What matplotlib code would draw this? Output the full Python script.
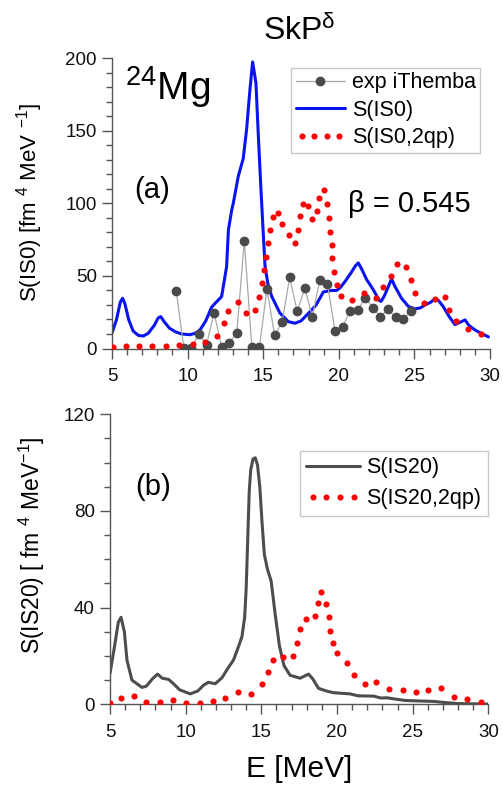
import matplotlib
matplotlib.use('Agg')
import matplotlib.pyplot as plt
from matplotlib.ticker import MultipleLocator
from matplotlib.legend_handler import HandlerLine2D

plt.rcParams['font.family'] = ['Liberation Sans', 'DejaVu Sans']
plt.rcParams['mathtext.fontset'] = 'custom'
plt.rcParams['mathtext.rm'] = 'Liberation Sans'
plt.rcParams['mathtext.it'] = 'Liberation Sans:italic'
plt.rcParams['mathtext.default'] = 'regular'
plt.rcParams['lines.solid_joinstyle'] = 'round'
plt.rcParams['lines.solid_capstyle'] = 'round'

# ---- panel (a): IS0 strength ----
# experiment iThemba
exp_E = [9.25, 9.75, 10.25, 10.75, 11.25, 11.75, 12.25, 12.75, 13.25, 13.75,
         14.25, 14.75, 15.25, 15.75, 16.25, 16.75, 17.25, 17.75, 18.25, 18.75,
         19.25, 19.75, 20.25, 20.75, 21.25, 21.75, 22.25, 22.75, 23.25, 23.75,
         24.25, 24.75]
exp_S = [39.5, 0.5, 0.5, 10, 2.4, 24.7, 1.3, 4, 10.5, 74,
         1, 1, 41, 9.3, 18, 49, 25.5, 41.5, 22, 47.5,
         44.5, 12, 15, 26, 26.5, 35, 28, 22, 27, 21.5,
         20, 25.5]

# S(IS0)
is0_E = [5.0, 5.3, 5.55, 5.7, 5.85, 6.1, 6.4, 6.75, 7.07, 7.4, 7.8, 8.05, 8.22,
         8.45, 8.8, 9.2, 9.6, 10.16, 10.5, 10.82, 11.2, 11.59, 11.9, 12.25,
         12.58, 12.7, 12.92, 13.02, 13.35, 13.68, 13.9, 14.12, 14.3, 14.52,
         14.67, 14.83, 15.0, 15.12, 15.3, 15.56, 16.1, 16.66, 17.1, 17.5, 18.1,
         18.5, 18.98, 19.5, 19.86, 20.1, 20.4, 20.8, 21.1, 21.29, 21.5, 21.84,
         22.0, 22.28, 22.68, 22.8, 23.0, 23.25, 23.49, 23.7, 24.15, 24.6, 25.04,
         25.4, 25.7, 26.1, 26.36, 26.6, 26.9, 27.3, 27.68, 28.0, 28.35, 28.6,
         29.0, 29.5, 29.9]
is0_S = [10.7, 20, 32, 34.6, 31, 20, 12, 9, 8.6, 10.5, 16, 21, 22,
         18.5, 14, 11.5, 10, 9.5, 10.5, 12.8, 19, 28.5, 32, 35.8,
         56.5, 81.8, 95.6, 100, 118.6, 131, 150.8, 178, 197.5, 183,
         148.5, 114, 80, 57, 45, 36, 24.5, 18.5, 17.4, 19, 25.4,
         30, 39, 40, 40, 42, 46, 52, 57, 59, 55, 47.5,
         45, 40.5, 33, 32.5, 36, 42, 48, 43, 34.6, 29, 27.3,
         28, 30, 32, 34.5, 33, 29, 22, 16.5, 18, 19.7, 16,
         12.8, 10, 8]

# S(IS0,2qp)
qp0_E = [5.04, 5.9, 6.79, 7.67, 8.57, 9.45, 10.34, 11.15, 11.92, 12.41,
         12.69, 13.31, 13.84, 14.46, 14.74, 14.9, 15.05, 15.19, 15.34, 15.45,
         15.63, 15.96, 16.22, 16.73, 17.1, 17.32, 17.45, 17.61, 17.98, 18.21,
         18.58, 18.71, 19.04, 19.22, 19.33, 19.42, 19.53, 19.57, 19.68, 19.86,
         20.15, 20.85, 21.67, 22.46, 22.9, 23.43, 23.83, 24.42, 24.75, 25.04,
         25.63, 26.36, 27.02, 27.31, 27.75, 28.57, 29.4]
qp0_S = [1.0, 1.6, 1.7, 1.7, 2.0, 2.4, 2.9, 4.3, 8.9, 17.5,
         26, 31.8, 24.3, 26.6, 35.8, 45, 54.2, 62.9, 73, 81.6,
         90.5, 93.3, 85.7, 78.3, 72.6, 81.8, 91, 99.7, 97.9, 89.4,
         94.7, 103.7, 108.9, 99.7, 89.9, 80.6, 71.4, 62.2, 53, 43.8,
         36.2, 33.5, 38, 34.6, 42.7, 50, 58.3, 56, 47.3, 38.5,
         31.6, 34.2, 35.3, 26.6, 19, 13.2, 9.8]

# ---- panel (b): IS20 strength ----
is20_E = [5.0, 5.3, 5.55, 5.73, 5.95, 6.12, 6.45, 7.11, 7.4, 7.8, 8.14, 8.45,
          8.87, 9.2, 9.6, 10.3, 10.8, 11.2, 11.51, 11.95, 12.4, 12.8, 13.16,
          13.5, 13.72, 13.9, 14.0, 14.1, 14.2, 14.3, 14.45, 14.6, 14.75, 14.9,
          15.05, 15.2, 15.4, 15.65, 15.9, 16.2, 16.5, 16.9, 17.57, 18.12, 18.4,
          18.78, 19.3, 19.77, 20.87, 21.4, 22.41, 22.9, 23.3, 23.8, 24.5, 25.28,
          26.4, 27.0, 28.0, 29.0, 30.0]
is20_S = [12.8, 24, 34, 36, 30, 18.3, 10, 7, 7.5, 10.5, 12.5, 10.8,
          10.3, 8.5, 6, 4.3, 5.5, 8, 9.1, 8.5, 11, 15, 18.3,
          24, 28, 36, 48, 68, 88, 97, 101.5, 102, 99, 90,
          75, 62, 56, 51, 38, 24, 16, 12, 10.8, 12.5, 10.5,
          6.6, 5.5, 4.8, 4.3, 3.5, 3.4, 2.6, 2.7, 2.2, 1.6, 1.4,
          1.2, 0.8, 0.3, 0.2, 0.1]

qp20_E = [5.02, 5.73, 6.56, 7.4, 8.28, 9.16, 10.04, 10.92, 11.8, 12.62,
          13.49, 14.33, 15.04, 15.41, 15.74, 16.43, 17.09, 17.35, 17.57, 17.97,
          18.56, 18.74, 18.96, 19.29, 19.44, 19.55, 19.73, 20.03, 20.69, 21.14,
          21.87, 22.59, 23.47, 24.35, 25.23, 26.04, 26.86, 27.74, 28.62, 29.5]
qp20_S = [0.7, 2.5, 3.4, 0.8, 0.8, 1.7, 0.7, 0.7, 1.4, 2.7,
          5.2, 4.1, 8.3, 13.5, 18.3, 19.4, 20.1, 25.5, 31, 35.2,
          36.5, 41.8, 46.3, 41.5, 36, 30.5, 25.2, 21.3, 17.2, 12.1,
          8.3, 9.1, 6.3, 5.9, 5.0, 5.9, 6.6, 3.1, 2.1, 1.1]

W, H = 503, 789
fig = plt.figure(figsize=(W / 100, H / 100), dpi=100)
ax1 = fig.add_axes([112 / W, 1 - 348.5 / H, 378 / W, 290.2 / H])
ax2 = fig.add_axes([110 / W, 1 - 704.3 / H, 378.3 / W, 290 / H])

spine_c = '#555555'
for ax in (ax1, ax2):
    for s in ('top', 'right'):
        ax.spines[s].set_visible(False)
    for s in ('left', 'bottom'):
        ax.spines[s].set_color(spine_c)
        ax.spines[s].set_linewidth(1.0)
    ax.tick_params(which='both', direction='out', color=spine_c, width=1.0,
                   labelsize=13.5, labelcolor='#111111')
    ax.tick_params(which='major', length=7, pad=4)
    ax.tick_params(which='minor', length=4)
    ax.tick_params(axis='x', which='major', pad=7)
    ax.set_xlim(5, 30)
    ax.xaxis.set_major_locator(MultipleLocator(5))
    ax.xaxis.set_minor_locator(MultipleLocator(1))

# panel (a)
ax1.set_ylim(0, 200)
ax1.yaxis.set_major_locator(MultipleLocator(50))
ax1.yaxis.set_minor_locator(MultipleLocator(10))
l_exp, = ax1.plot(exp_E, exp_S, color='#a8a8a8', lw=0.9, marker='o', ms=6,
                  mfc='#4a4a4a', mec='#4a4a4a', label='exp iThemba', zorder=3)
l_is0, = ax1.plot(is0_E, is0_S, color='#0a14f0', lw=2.2, label='S(IS0)', zorder=2)
l_qp0, = ax1.plot(qp0_E, qp0_S, ls='none', marker='o', ms=4.4, color='#ff0000',
                  mec='none', label='S(IS0,2qp)', zorder=4)
leg1 = ax1.legend(handles=[l_exp, l_is0, l_qp0], loc='upper right',
                  bbox_to_anchor=(480 / W, 1 - 68 / H), bbox_transform=fig.transFigure,
                  borderaxespad=0, fontsize=15.5, frameon=True, fancybox=False,
                  edgecolor='#c8c8c8', framealpha=1, handlelength=2.3,
                  handletextpad=0.3, labelspacing=0.3, borderpad=0.2,
                  handler_map={l_qp0: HandlerLine2D(numpoints=4)})
leg1.get_frame().set_linewidth(1.0)

ax1.text(6.45, 104, '(a)', fontsize=21, ha='left', va='baseline')
ax1.text(20.6, 94.2, 'β = 0.545', fontsize=21, ha='left', va='baseline')

# panel (b)
ax2.set_ylim(0, 120)
ax2.yaxis.set_major_locator(MultipleLocator(40))
ax2.yaxis.set_minor_locator(MultipleLocator(10))
l_is20, = ax2.plot(is20_E, is20_S, color='#4d4d4d', lw=2.2, label='S(IS20)', zorder=2)
l_qp20, = ax2.plot(qp20_E, qp20_S, ls='none', marker='o', ms=4.4, color='#ff0000',
                   mec='none', label='S(IS20,2qp)', zorder=3)
leg2 = ax2.legend(handles=[l_is20, l_qp20], loc='upper right',
                  bbox_to_anchor=(488 / W, 1 - 451 / H), bbox_transform=fig.transFigure,
                  borderaxespad=0, fontsize=15.5, frameon=True, fancybox=False,
                  edgecolor='#c8c8c8', framealpha=1, handlelength=2.5,
                  handletextpad=0.3, labelspacing=0.45, borderpad=0.3,
                  handler_map={l_qp20: HandlerLine2D(numpoints=4)})
leg2.get_frame().set_linewidth(1.0)

ax2.text(6.67, 86.6, '(b)', fontsize=21, ha='left', va='baseline')

# figure texts
fig.text(263 / W, 1 - 40 / H, r'SkP$^{δ}$', fontsize=23, ha='left', va='baseline')
fig.text(125 / W, 1 - 100 / H, r'$^{24}$Mg', fontsize=28, ha='left', va='baseline')
fig.text(30 / W, 1 - 202 / H, r'S(IS0) [fm $^{4}$ MeV $^{-1}$]', fontsize=16,
         rotation=90, ha='center', va='center')
fig.text(32 / W, 1 - 545 / H, r'S(IS20) [ fm $^{4}$ MeV$^{-1}$]', fontsize=16.5,
         rotation=90, ha='center', va='center')
fig.text(299.5 / W, 1 - 777 / H, 'E [MeV]', fontsize=21.5, ha='center', va='baseline')

fig.savefig('out.png', dpi=100)
